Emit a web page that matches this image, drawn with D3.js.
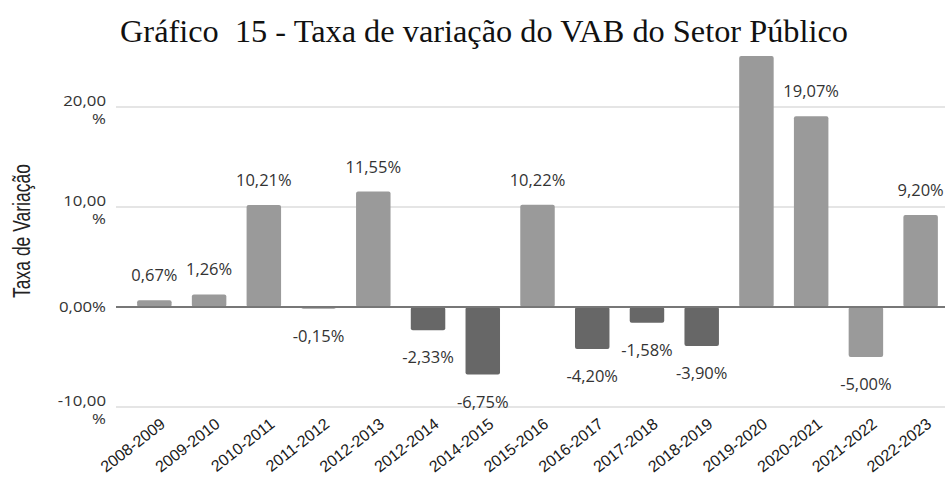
<!DOCTYPE html>
<html>
<head>
<meta charset="utf-8">
<script src="https://cdn.jsdelivr.net/npm/d3@7"></script>
<style>
  body { margin: 0; background: #fff; }
  svg { display: block; }
</style>
</head>
<body>
<svg id="chart" width="945" height="479"></svg>
<script>
  'use strict';

  // periods on the x axis
  var periods = ['2008-2009', '2009-2010', '2010-2011', '2011-2012', '2012-2013',
    '2012-2014', '2014-2015', '2015-2016', '2016-2017', '2017-2018',
    '2018-2019', '2019-2020', '2020-2021', '2021-2022', '2022-2023'];

  // taxa de variacao (%)
  var values = [0.67, 1.26, 10.21, -0.15, 11.55, -2.33, -6.75, 10.22, -4.20, -1.58,
    -3.90, 25.1, 19.07, -5.00, 9.20];

  // data labels as printed (2019-2020 has none in the original)
  var valueLabels = ['0,67%', '1,26%', '10,21%', '-0,15%', '11,55%', '-2,33%', '-6,75%',
    '10,22%', '-4,20%', '-1,58%', '-3,90%', '', '19,07%', '-5,00%', '9,20%'];

  // bar shade: light or dark gray
  var shades = ['light', 'light', 'light', 'dark', 'light', 'dark', 'dark', 'light',
    'dark', 'dark', 'dark', 'light', 'light', 'light', 'light'];

  var yTicks = [-10, 0, 10, 20];
  var yTickLabels = [['-10,00', '%'], ['0,00%'], ['10,00', '%'], ['20,00', '%']];

  var title = 'Gráfico  15 - Taxa de variação do VAB do Setor Público';
  var yTitle = 'Taxa de Variação';

  ////////////////////////////////////////////////////////////////////////////////////

  var svg = d3.select('#chart');
  var colors = { light: '#9a9a9a', dark: '#676767' };

  var x = d3.scaleBand().domain(periods).range([127, 948]).paddingInner(0.37).paddingOuter(0.185);
  var y = d3.scaleLinear().domain([-10, 20]).range([407, 107]);

  svg.append('text')
    .attr('x', 120).attr('y', 42)
    .attr('xml:space', 'preserve')
    .style('white-space', 'pre')
    .attr('textLength', 728)
    .attr('lengthAdjust', 'spacingAndGlyphs')
    .attr('font-family', '"Liberation Serif", "Times New Roman", serif')
    .attr('font-size', 31)
    .attr('fill', '#111')
    .text(title);

  // gridlines
  svg.append('g').selectAll('line')
    .data(yTicks.filter(function (t) { return t !== 0; }))
    .join('line')
    .attr('x1', 116).attr('x2', 945)
    .attr('y1', function (d) { return y(d); })
    .attr('y2', function (d) { return y(d); })
    .attr('stroke', '#dcdcdc').attr('stroke-width', 1.5);

  // y tick labels (glyphs are a bit wide in the original)
  var tickG = svg.append('g')
    .attr('font-family', '"Open Sans", "Noto Sans", sans-serif')
    .attr('font-size', 14)
    .attr('fill', '#333')
    .attr('text-anchor', 'end');

  yTicks.forEach(function (t, i) {
    var lines = yTickLabels[i];
    var g = tickG.append('g').attr('transform', 'translate(106,' + y(t) + ') scale(1.2,1)');
    if (lines.length === 1) {
      g.append('text').attr('y', 5).text(lines[0]);
    } else {
      g.append('text').attr('y', -1).text(lines[0]);
      g.append('text').attr('y', 17).text(lines[1]);
    }
  });

  svg.append('text')
    .attr('transform', 'translate(30,231) scale(1.35,1) rotate(-90)')
    .attr('text-anchor', 'middle')
    .attr('font-family', '"Liberation Sans", Arial, sans-serif')
    .attr('font-size', 17.5)
    .attr('fill', '#222')
    .text(yTitle);

  // bars
  svg.append('g').selectAll('rect')
    .data(values)
    .join('rect')
    .attr('x', function (d, i) { return x(periods[i]); })
    .attr('width', x.bandwidth())
    .attr('y', function (d) { return Math.min(y(d), y(0)); })
    .attr('height', function (d) { return Math.abs(y(d) - y(0)); })
    .attr('rx', 2)
    .attr('fill', function (d, i) { return colors[shades[i]]; });

  // zero line
  svg.append('line')
    .attr('x1', 116).attr('x2', 945)
    .attr('y1', y(0)).attr('y2', y(0))
    .attr('stroke', '#777').attr('stroke-width', 2);

  // value labels
  svg.append('g').selectAll('text')
    .data(values)
    .join('text')
    .attr('x', function (d, i) { return x(periods[i]) + x.bandwidth() / 2; })
    .attr('y', function (d) { return d >= 0 ? y(d) - 19 : y(d) + 33; })
    .attr('text-anchor', 'middle')
    .attr('font-family', '"Open Sans", "Noto Sans", sans-serif')
    .attr('font-size', 16.5)
    .attr('fill', '#333')
    .text(function (d, i) { return valueLabels[i]; });

  // x axis labels, slanted
  svg.append('g').selectAll('text')
    .data(periods)
    .join('text')
    .attr('transform', function (d) {
      return 'translate(' + (x(d) + x.bandwidth() / 2 + 12) + ',426) rotate(-38)';
    })
    .attr('text-anchor', 'end')
    .attr('font-family', '"Liberation Sans", Arial, sans-serif')
    .attr('font-size', 16)
    .attr('fill', '#1a1a1a')
    .text(function (d) { return d; });
</script>
</body>
</html>
